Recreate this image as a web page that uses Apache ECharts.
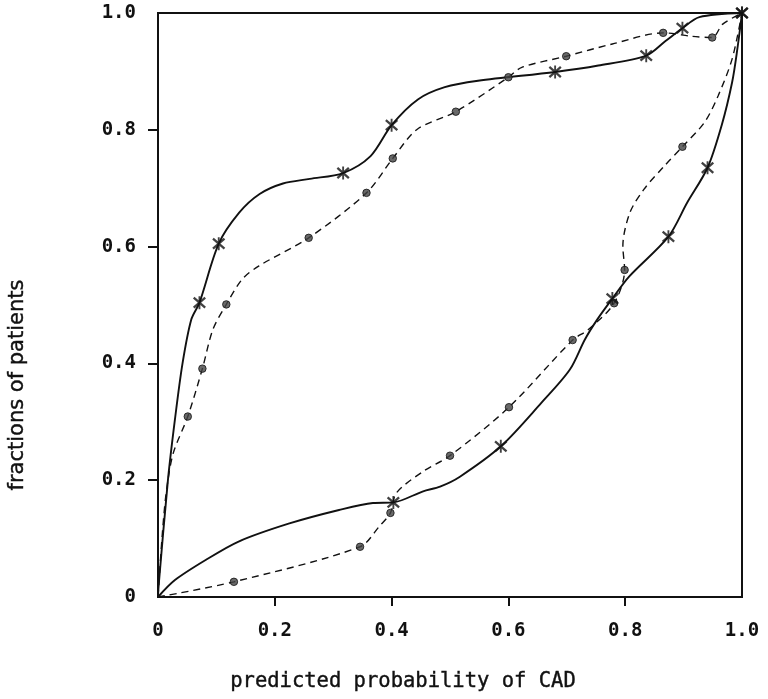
<!DOCTYPE html>
<html><head><meta charset="utf-8">
<script src="https://cdn.jsdelivr.net/npm/echarts@6/dist/echarts.min.js"></script>
<style>html,body{margin:0;padding:0;background:#fff}#c{width:768px;height:699px}</style>
</head><body><div id="c"></div>
<script>
// ---- data ----
// marked points (crosses / dots)
const upperSolidMarks  = [[0.071,0.504],[0.104,0.605],[0.317,0.726],[0.400,0.808],[0.680,0.899],[0.836,0.927],[0.898,0.974],[1,1]];
const upperDashedMarks = [[0.051,0.309],[0.076,0.391],[0.117,0.501],[0.258,0.615],[0.357,0.692],[0.402,0.751],[0.510,0.831],[0.600,0.890],[0.699,0.926],[0.865,0.966],[0.949,0.958]];
const lowerSolidMarks  = [[0.403,0.162],[0.587,0.258],[0.778,0.511],[0.874,0.617],[0.941,0.735],[1,1]];
const lowerDashedMarks = [[0.130,0.026],[0.346,0.086],[0.398,0.144],[0.500,0.242],[0.601,0.325],[0.710,0.440],[0.781,0.503],[0.799,0.560],[0.898,0.771]];
// points (markers included)
const upperSolidCurve  = [[0,0],[0.001,0.018],[0.017,0.200],[0.029,0.304],[0.042,0.400],[0.057,0.475],[0.071,0.504],[0.104,0.605],[0.139,0.658],[0.174,0.690],[0.214,0.708],[0.260,0.716],[0.317,0.726],[0.364,0.755],[0.400,0.808],[0.445,0.852],[0.491,0.873],[0.548,0.884],[0.680,0.899],[0.754,0.910],[0.836,0.927],[0.869,0.952],[0.898,0.974],[0.927,0.993],[1,1]];
const upperDashedCurve = [[0,0],[0.007,0.103],[0.014,0.178],[0.026,0.246],[0.051,0.309],[0.076,0.391],[0.094,0.458],[0.117,0.501],[0.144,0.544],[0.173,0.567],[0.258,0.615],[0.357,0.692],[0.402,0.751],[0.444,0.801],[0.510,0.831],[0.600,0.890],[0.623,0.907],[0.699,0.926],[0.778,0.947],[0.865,0.966],[0.915,0.960],[0.949,0.958],[0.967,0.981],[1,1]];
const lowerSolidCurve  = [[0,0],[0.029,0.029],[0.081,0.063],[0.138,0.095],[0.225,0.126],[0.310,0.149],[0.368,0.161],[0.403,0.162],[0.454,0.181],[0.483,0.189],[0.517,0.206],[0.587,0.258],[0.656,0.332],[0.705,0.389],[0.731,0.441],[0.752,0.475],[0.778,0.511],[0.807,0.549],[0.874,0.617],[0.906,0.675],[0.941,0.735],[0.965,0.807],[0.983,0.881],[0.992,0.938],[1,1]];
const lowerDashedCurve = [[0,0],[0.130,0.026],[0.346,0.086],[0.379,0.121],[0.398,0.144],[0.408,0.178],[0.454,0.215],[0.500,0.242],[0.601,0.325],[0.710,0.440],[0.737,0.458],[0.781,0.503],[0.799,0.560],[0.796,0.601],[0.808,0.658],[0.832,0.698],[0.867,0.738],[0.898,0.771],[0.936,0.813],[0.959,0.858],[0.983,0.921],[1,1]];
const tickValues  = [0, 0.2, 0.4, 0.6, 0.8, 1.0];
const innerTicks  = [0.2, 0.4, 0.6, 0.8];
const xAxisTitle  = 'predicted probability of CAD';
const yAxisTitle  = 'fractions of patients';

// ---- styling ----
const INK = '#111';
const STAR = 'path://M8.7,1L11.3,1L11.3,19L8.7,19Z M3.05,1.8L19.05,15.8L16.95,18.2L0.95,4.2Z M16.95,1.8L19.05,4.2L3.05,18.2L0.95,15.8Z';
const MONO = "'DejaVu Sans Mono', 'Liberation Mono', monospace";

function curve(data, dashed) {
  return {
    type: 'line', data: data, smooth: 0.3, z: dashed ? 2 : 3, symbol: 'none',
    lineStyle: dashed ? { color: INK, width: 1.4, type: [7, 5] } : { color: INK, width: 1.9, type: 'solid' },
    animation: false, silent: true
  };
}
function marks(data, star) {
  return star
    ? { type: 'scatter', data: data, z: 5, symbol: STAR, symbolSize: 13,
        itemStyle: { color: INK }, animation: false, silent: true }
    : { type: 'scatter', data: data, z: 4, symbol: 'circle', symbolSize: 7.5,
        itemStyle: { color: '#444', borderColor: INK, borderWidth: 1 }, animation: false, silent: true };
}
const fmt = v => (v === 0 ? '0' : v.toFixed(1));

const chart = echarts.init(document.getElementById('c'), null, { renderer: 'canvas' });
chart.setOption({
  backgroundColor: '#fff',
  animation: false,
  grid: { left: 158, right: 26, top: 13, bottom: 102, show: true, borderColor: INK, borderWidth: 2 },
  xAxis: {
    type: 'value', min: 0, max: 1, interval: 0.2,
    splitLine: { show: false },
    axisLine: { show: true, lineStyle: { color: INK, width: 2 } },
    axisTick: { show: true, customValues: innerTicks, length: 9, lineStyle: { color: INK, width: 2 } },
    axisLabel: { customValues: tickValues, formatter: fmt, margin: 25, color: INK,
                 fontFamily: MONO, fontSize: 19, fontWeight: 'bold' }
  },
  yAxis: {
    type: 'value', min: 0, max: 1, interval: 0.2,
    splitLine: { show: false },
    axisLine: { show: true, lineStyle: { color: INK, width: 2 } },
    axisTick: { show: true, customValues: innerTicks, length: 10, lineStyle: { color: INK, width: 2 } },
    axisLabel: { customValues: tickValues, formatter: fmt, margin: 22, color: INK,
                 fontFamily: MONO, fontSize: 19, fontWeight: 'bold' }
  },
  graphic: [
    { type: 'text', left: 230, top: 671,
      style: { text: xAxisTitle, fill: INK, font: "20.5px " + MONO, stroke: INK, lineWidth: 0.4 } },
    { type: 'text', x: 18, y: 385, rotation: Math.PI / 2,
      style: { text: yAxisTitle, fill: INK, font: "21px 'DejaVu Sans', sans-serif", stroke: INK, lineWidth: 0.4,
               align: 'center', verticalAlign: 'middle' } }
  ],
  series: [
    curve(upperDashedCurve, true),
    curve(lowerDashedCurve, true),
    curve(upperSolidCurve, false),
    curve(lowerSolidCurve, false),
    marks(upperDashedMarks, false),
    marks(lowerDashedMarks, false),
    marks(upperSolidMarks, true),
    marks(lowerSolidMarks, true)
  ]
});
</script>
</body></html>
